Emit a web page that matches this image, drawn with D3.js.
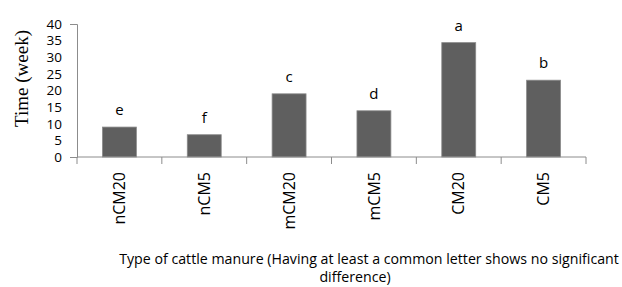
<!DOCTYPE html>
<html><head><meta charset="utf-8">
<script src="https://cdn.jsdelivr.net/npm/d3@7"></script>
<style>body{margin:0;background:#fff}svg{display:block}</style>
</head><body>
<script>
const categories = ["nCM20","nCM5","mCM20","mCM5","CM20","CM5"];
const values = [9.0, 6.7, 19.0, 13.9, 34.4, 23.1];
const letters = ["e","f","c","d","a","b"];
const yTicks = [0,5,10,15,20,25,30,35,40];
const yTitle = "Time (week)";
const xTitle1 = "Type of cattle manure (Having at least a common letter shows no significant";
const xTitle2 = "difference)";

(function(){
const W = 622, H = 287;
const svg = d3.select("body").append("svg").attr("width", W).attr("height", H);
const pl = 77, pr = 586, pt = 24, pb = 157;
const x = d3.scaleBand().domain(categories).range([pl, pr]).paddingInner(0.6).paddingOuter(0.3);
const y = d3.scaleLinear().domain([0, 40]).range([pb, pt]);
const axisCol = "#8c8c8c";
const font = "'Open Sans', sans-serif";

// bars
svg.selectAll("rect.bar").data(values).join("rect")
  .attr("class","bar")
  .attr("x", (d,i) => x(categories[i]))
  .attr("width", x.bandwidth())
  .attr("y", d => y(d))
  .attr("height", d => y(0) - y(d))
  .attr("fill", "#5f5f5f")
  .attr("stroke", "#8a8a8a").attr("stroke-width", 0.8);

// letters
svg.selectAll("text.lt").data(letters).join("text")
  .attr("class","lt")
  .attr("x", (d,i) => x(categories[i]) + x.bandwidth()/2)
  .attr("y", (d,i) => y(values[i]) - 12)
  .attr("text-anchor","middle")
  .attr("font-family", font).attr("font-size", 15).attr("fill","#000")
  .text(d => d);

// y axis
const ya = svg.append("g").attr("transform", `translate(${pl},0)`)
  .call(d3.axisLeft(y).tickValues(yTicks).tickSizeInner(0).tickSizeOuter(7).tickPadding(15));
ya.select(".domain").attr("stroke", axisCol);
ya.selectAll("text").attr("font-family", font).attr("font-size", 13.5).attr("fill","#000");

// x axis baseline and boundary ticks
const xa = svg.append("g").attr("transform", `translate(0,${pb})`)
  .call(d3.axisBottom(x).tickSize(0).tickPadding(0));
xa.select(".domain").attr("stroke", axisCol).attr("d", `M${pl},0H${pr}`);
xa.selectAll(".tick text")
  .attr("font-family", font).attr("font-size", 16).attr("fill","#000")
  .attr("text-anchor","end")
  .attr("transform","rotate(-90)")
  .attr("x", -15).attr("y", 0).attr("dy","0.35em").attr("dx", 0);
const bounds = categories.map(c => x(c) - x.step()*x.paddingOuter());
bounds.push(pr);
xa.selectAll("line.bt").data(bounds).join("line").attr("class","bt")
  .attr("x1", d=>d).attr("x2", d=>d).attr("y1", 0).attr("y2", 7)
  .attr("stroke", axisCol);

// titles
svg.append("text")
  .attr("transform", `translate(28,78.5) rotate(-90)`)
  .attr("text-anchor","middle")
  .attr("font-family","'Liberation Serif', 'Times New Roman', serif").attr("font-size", 19)
  .attr("fill","#000").text(yTitle);
svg.append("text").attr("x", 369).attr("y", 264).attr("text-anchor","middle")
  .attr("font-family", font).attr("font-size", 14.2).attr("fill","#000").text(xTitle1);
svg.append("text").attr("x", 355).attr("y", 282).attr("text-anchor","middle")
  .attr("font-family", font).attr("font-size", 14.2).attr("fill","#000").text(xTitle2);
})();
</script>
</body></html>
